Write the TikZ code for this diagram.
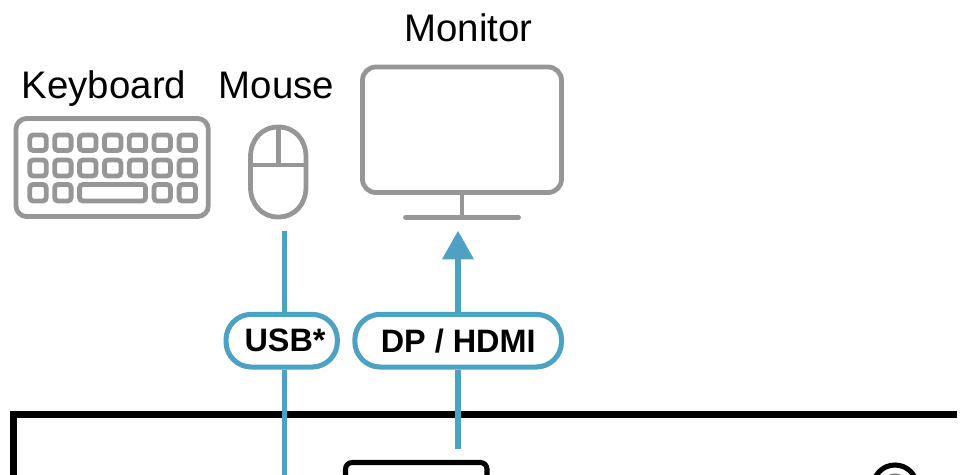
\documentclass[tikz,border=0pt]{standalone}
\usepackage{fontspec}
\setmainfont{Liberation Sans}
\definecolor{icongrey}{HTML}{969696}
\definecolor{linkblue}{HTML}{4FA1C4}
\tikzset{
  icon/.style={draw=icongrey,line width=3.6pt},
  keycap/.style={icon,rounded corners=2.5pt},
  link/.style={draw=linkblue,line width=4pt},
  pill/.style={draw=linkblue,line width=3.8pt,fill=white,rounded corners=19pt,minimum height=39.5pt,inner sep=0pt,font=\bfseries\fontsize{24.3}{28}\selectfont},
  lbl/.style={font=\fontsize{28.8}{32}\selectfont,inner sep=0pt,text=black,anchor=base},
  board/.style={draw=black,line width=5.4pt},
  port/.style={draw=black,line width=3.8pt},
}
\begin{document}
\begin{tikzpicture}[x=0.75pt,y=-0.75pt]
\useasboundingbox (0,0) rectangle (965,475);
\node[lbl] (kblabel) at (104,98.5) {Keyboard};
\node[lbl] (mouselabel) at (276.5,98.5) {Mouse};
\node[lbl] (monlabel) at (468.5,41) {Monitor};
% keyboard
\draw[icon,rounded corners=8pt] (16,118.5) rectangle (208.3,216.5);
\foreach \x in {38,62.9,87.8,112.7,137.4,162.2,187.3}{
  \draw[keycap] (\x-8.2,135) rectangle (\x+8.2,150.5);
  \draw[keycap] (\x-8.2,160) rectangle (\x+8.2,176);
}
\foreach \x in {38,62.9,162.2,187.3}{
  \draw[keycap] (\x-8.2,184.5) rectangle (\x+8.2,201);
}
\draw[keycap] (79.6,184.5) rectangle (145.5,201);
% mouse
\draw[icon] (278.3,127) .. controls (295,127) and (306,140) .. (306,157) -- (306,187)
  .. controls (306,204) and (295,217) .. (278.3,217)
  .. controls (261.5,217) and (250.5,204) .. (250.5,187) -- (250.5,157)
  .. controls (250.5,140) and (261.5,127) .. (278.3,127) -- cycle;
\draw[icon] (278.3,127) -- (278.3,165);
\draw[icon] (250.5,165) -- (306,165);
% monitor
\draw[icon,rounded corners=10pt] (362.5,67) rectangle (561.5,192.5);
\draw[icon] (462,192.5) -- (462,217.5);
\draw[icon,line cap=round] (405.5,217.5) -- (518.5,217.5);
% board
\draw[board,miter limit=10] (13.7,475) -- (13.7,414.7) -- (957,414.7);
\draw[port,rounded corners=5pt] (345.5,480) -- (345.5,462.5) -- (487,462.5) -- (487,480);
\fill[black!55] (895,487) circle (13.5);
\draw[port] (895,487) circle (22);
% connectors
\node[pill,minimum width=83.5pt] (usb) at (281.7,340.7) {\hspace*{5pt}USB*};
\node[pill,minimum width=155pt] (dp) at (458.2,340.7) {DP / HDMI};
\coordinate (mousefree) at (284.7,231);
\coordinate (usbfree) at (284.7,475);
\coordinate (dpfree) at (458,449);
\coordinate (montip) at (458,231);
\coordinate (arrowbase) at (458,259);
\draw[link] (mousefree) -- (mousefree |- usb.north);
\draw[link] (mousefree |- usb.south) -- (usbfree);
\draw[link] (dpfree) -- (dpfree |- dp.south);
\draw[link] (arrowbase) -- (arrowbase |- dp.north);
\fill[linkblue] (montip) -- (474,259.3) -- (442,259.3) -- cycle;
\end{tikzpicture}
\end{document}
